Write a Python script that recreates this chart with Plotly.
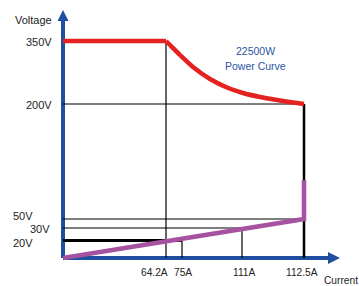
import plotly.graph_objects as go

# Schematic (non-linear) axis positions for the labelled values
current_labels = ["64.2A", "75A", "111A", "112.5A"]
current_pos = [103, 119, 179, 241]
voltage_labels = ["20V", "30V", "50V", "200V", "350V"]
voltage_pos = [17.5, 30, 39, 154, 217]

# 22500 W power curve (schematic coordinates)
curve_x = [103, 107, 117, 130, 147, 164, 180, 197, 214, 230, 241]
curve_y = [217, 213, 203, 191, 179, 170.5, 165, 161, 158, 155.5, 154]

X_END, Y_END = 277, 248
BLUE = "#1f4fa0"
RED = "#e42320"
PURPLE = "#a552a0"
TXT = "#222222"
FONT = "Liberation Sans, Arial, sans-serif"

i642, i75, i111, i1125 = current_pos
v20, v30, v50, v200, v350 = voltage_pos

fig = go.Figure()

def line(xs, ys, color="black", width=1.2, shape="linear"):
    fig.add_trace(go.Scatter(x=xs, y=ys, mode="lines",
                             line=dict(color=color, width=width, shape=shape, smoothing=0.8),
                             hoverinfo="skip", showlegend=False))

# axes
line([0, 0], [0, Y_END - 6], BLUE, 4)
line([0, X_END - 6], [0, 0], BLUE, 4)
fig.add_trace(go.Scatter(x=[0], y=[Y_END], mode="markers",
                         marker=dict(symbol="arrow-up", size=11, color=BLUE, line=dict(width=0)),
                         hoverinfo="skip", showlegend=False))
fig.add_trace(go.Scatter(x=[X_END], y=[0], mode="markers",
                         marker=dict(symbol="arrow-right", size=12, color=BLUE, line=dict(width=0)),
                         hoverinfo="skip", showlegend=False))

# thin guide lines
line([i642, i642], [0, v350])
line([0, i1125], [v200, v200])
line([0, i1125], [v50, v50])
line([0, i111, i111], [v30, v30, 0])
line([i75, i75], [v20, 0])
# thick black
line([i1125, i1125], [0, v200], "black", 2.5)
line([0, i75], [v20, v20], "black", 3)
# purple
line([0, i1125, i1125], [0, v50, 78], PURPLE, 4.5)
# red power limit
line([0, i642], [v350, v350], RED, 4.5)
line(curve_x, curve_y, RED, 4.5, "spline")

ann = []
def txt(x, y, s, anchor="center", color=TXT, size=11):
    ann.append(dict(x=x, y=y, xref="x", yref="y", text=s, showarrow=False,
                    xanchor=anchor, yanchor="middle",
                    font=dict(family=FONT, size=size, color=color)))

txt(-30, 238, "Voltage")
txt(-24, 216, voltage_labels[4])
txt(-24, 153, voltage_labels[3])
txt(-28, 42, voltage_labels[2], "right")
txt(-11, 29, voltage_labels[1], "right")
txt(-28, 15, voltage_labels[0], "right")
txt(91.5, -14, current_labels[0], size=10.2)
txt(119.5, -14, current_labels[1], size=10.2)
txt(180.5, -14, current_labels[2], size=10.2)
txt(238.5, -14, current_labels[3], size=10.2)
txt(278, -22, "Current", size=10.2)
txt(192, 207, "22500W", color="#2a55a5", size=10.5)
txt(192, 192, "Power Curve", color="#2a55a5", size=10.5)

fig.update_layout(
    width=359, height=286,
    margin=dict(l=0, r=0, t=0, b=0, pad=0),
    paper_bgcolor="white", plot_bgcolor="white",
    xaxis=dict(range=[-63, 296], visible=False, fixedrange=True),
    yaxis=dict(range=[-28, 258], visible=False, fixedrange=True),
    annotations=ann,
    showlegend=False,
)
fig.write_html("out.html", config={"displayModeBar": False},
               post_script="document.body.style.margin='0';document.body.style.overflow='hidden';")
